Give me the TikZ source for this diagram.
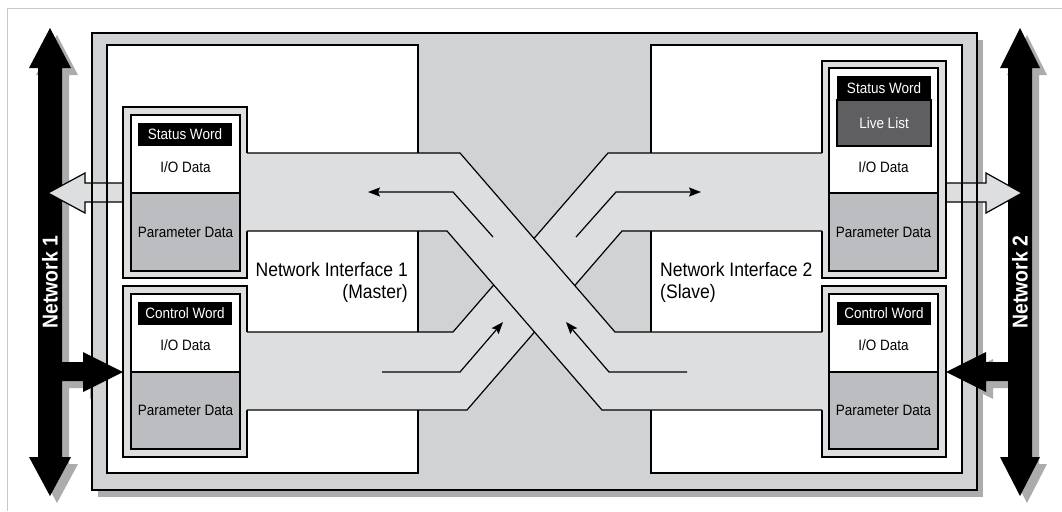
\documentclass[tikz,border=0pt]{standalone}
\usepackage{fontspec}
\setmainfont{Liberation Sans}[FakeStretch=0.9]
\usetikzlibrary{arrows.meta}
\definecolor{framegray}{RGB}{209,210,212}
\definecolor{bandgray}{RGB}{221,222,224}
\definecolor{paramgray}{RGB}{188,189,192}
\definecolor{livegray}{RGB}{95,95,97}
\definecolor{shadowgray}{RGB}{172,172,174}
\definecolor{bordergray}{RGB}{200,200,200}
\begin{document}
\begin{tikzpicture}[x=1pt,y=-1pt,line join=miter,
  thinline/.style={line width=1.2pt},
  frameline/.style={line width=2.5pt},
  lbl/.style={font=\fontsize{15}{17}\selectfont,inner sep=0pt},
  wordbox/.style={fill=black,text=white,minimum width=94pt,minimum height=23pt,inner sep=0pt,font=\fontsize{15}{17}\selectfont},
  big/.style={font=\fontsize{19.5}{22}\selectfont,inner sep=0pt},
  netlbl/.style={font=\bfseries\fontsize{21.5}{24}\selectfont,text=white,inner sep=0pt,rotate=90},
  smallarrow/.style={thinline,-{Stealth[length=12pt,width=9pt,inset=2pt]}},
  groupbox/.style={thinline,fill=bandgray},
  bandfill/.style={fill=bandgray},
  bandline/.style={thinline}]
\useasboundingbox (0,0) rectangle (1062,511);
% page border lines
\draw[bordergray,line width=1pt] (7,511) -- (7,9) -- (1062,9);
% shadows
\fill[shadowgray] (98,40) rectangle (983,497);
\fill[shadowgray,shift={(7,7)}] (50,28) -- (71,68) -- (62,68) -- (62,362) -- (83,362) -- (83,352) -- (123,372) -- (83,392) -- (83,381) -- (62,381) -- (62,457) -- (71,457) -- (50,496) -- (29,457) -- (38,457) -- (38,68) -- (29,68) -- cycle;
\fill[shadowgray,shift={(7,7)}] (1020,28) -- (1040,68) -- (1032,68) -- (1032,457) -- (1040,457) -- (1020,496) -- (1000,457) -- (1008,457) -- (1008,381) -- (986,381) -- (986,392) -- (946,372) -- (986,352) -- (986,362) -- (1008,362) -- (1008,68) -- (1000,68) -- cycle;
% frame and white panels
\filldraw[fill=framegray,frameline] (92,33) rectangle (977,490);
\filldraw[fill=white,thinline] (107,45) rectangle (418,473);
\filldraw[fill=white,thinline] (651,45) rectangle (962,473);
% network arrows
\fill[black] (50,28) -- (71,68) -- (62,68) -- (62,362) -- (83,362) -- (83,352) -- (123,372) -- (83,392) -- (83,381) -- (62,381) -- (62,457) -- (71,457) -- (50,496) -- (29,457) -- (38,457) -- (38,68) -- (29,68) -- cycle;
\fill[black] (1020,28) -- (1040,68) -- (1032,68) -- (1032,457) -- (1040,457) -- (1020,496) -- (1000,457) -- (1008,457) -- (1008,381) -- (986,381) -- (986,392) -- (946,372) -- (986,352) -- (986,362) -- (1008,362) -- (1008,68) -- (1000,68) -- cycle;
\node[netlbl] (net1) at (50,282) {Network 1};
\node[netlbl] (net2) at (1020,282) {Network 2};
% light gray output arrows
\filldraw[fill=bandgray,thinline] (123,183) -- (85,183) -- (85,173) -- (48,193) -- (85,213) -- (85,202) -- (123,202) -- cycle;
\filldraw[fill=bandgray,thinline] (946,183) -- (986,183) -- (986,173) -- (1022,193) -- (986,213) -- (986,202) -- (946,202) -- cycle;
% frame and panel outlines over the arrow shafts
\draw[frameline] (92,33) rectangle (977,490);
\draw[thinline] (107,45) rectangle (418,473);
\draw[thinline] (651,45) rectangle (962,473);
% group outer boxes
\draw[groupbox] (123,107) rectangle (247,278);
\draw[groupbox] (123,286) rectangle (247,457);
\draw[groupbox] (822,61) rectangle (946,278);
\draw[groupbox] (822,286) rectangle (946,457);
% band lower-left to upper-right (below)
\fill[bandfill] (243,332) -- (453,332) -- (608,153) -- (826,153) -- (826,231) -- (622,231) -- (467,410) -- (243,410) -- cycle;
\draw[bandline] (247,332) -- (453,332) -- (608,153) -- (822,153);
\draw[bandline] (822,231) -- (622,231) -- (467,410) -- (247,410);
% band upper-left to lower-right (above)
\fill[bandfill] (243,153) -- (460,153) -- (615,332) -- (826,332) -- (826,410) -- (602,410) -- (447,231) -- (243,231) -- cycle;
\draw[bandline] (247,153) -- (460,153) -- (615,332) -- (822,332);
\draw[bandline] (822,410) -- (602,410) -- (447,231) -- (247,231);
% inner boxes
\filldraw[fill=white,thinline] (131,115) rectangle (240,271);
\filldraw[fill=paramgray,thinline] (131,193) rectangle (240,271);
\filldraw[fill=white,thinline] (131,294) rectangle (240,449);
\filldraw[fill=paramgray,thinline] (131,372) rectangle (240,449);
\filldraw[fill=white,thinline] (829,68) rectangle (938,271);
\filldraw[fill=paramgray,thinline] (829,193) rectangle (938,271);
\filldraw[fill=white,thinline] (829,294) rectangle (938,449);
\filldraw[fill=paramgray,thinline] (829,372) rectangle (938,449);
% labels upper-left
\node[wordbox] (sw1) at (185,134.5) {Status Word};
\node[lbl] (io1) at (185.5,167) {I/O Data};
\node[lbl] (pd1) at (185.5,232) {Parameter Data};
% labels lower-left
\node[wordbox] (cw1) at (185,313.5) {Control Word};
\node[lbl] (io2) at (185.5,345) {I/O Data};
\node[lbl] (pd2) at (185.5,410.5) {Parameter Data};
% labels upper-right
\node[fill=livegray,draw=black,thinline,text=white,minimum width=94pt,minimum height=46pt,inner sep=0pt,font=\fontsize{15}{17}\selectfont] (ll) at (884,123) {Live List};
\node[wordbox,minimum height=24pt] (sw2) at (884,88) {Status Word};
\node[lbl] (io3) at (883.5,167) {I/O Data};
\node[lbl] (pd3) at (883.5,232) {Parameter Data};
% labels lower-right
\node[wordbox] (cw2) at (884,313.5) {Control Word};
\node[lbl] (io4) at (883.5,345) {I/O Data};
\node[lbl] (pd4) at (883.5,410.5) {Parameter Data};
% interface names
\node[big,anchor=base east] (ni1a) at (408,276) {Network Interface 1};
\node[big,anchor=base east] (ni1b) at (408,298) {(Master)};
\node[big,anchor=base west] (ni2a) at (660,276) {Network Interface 2};
\node[big,anchor=base west] (ni2b) at (660,298) {(Slave)};
% small flow arrows
\coordinate (a1s) at (493,237); \coordinate (a1m) at (453,192); \coordinate (a1e) at (368,192);
\coordinate (a2s) at (576,237); \coordinate (a2m) at (616,192); \coordinate (a2e) at (701,192);
\coordinate (a3s) at (382,372); \coordinate (a3m) at (460,372); \coordinate (a3e) at (503,322);
\coordinate (a4s) at (687,372); \coordinate (a4m) at (609,372); \coordinate (a4e) at (566,322);
\draw[smallarrow] (a1s) -- (a1m) -- (a1e);
\draw[smallarrow] (a2s) -- (a2m) -- (a2e);
\draw[smallarrow] (a3s) -- (a3m) -- (a3e);
\draw[smallarrow] (a4s) -- (a4m) -- (a4e);
\end{tikzpicture}
\end{document}
